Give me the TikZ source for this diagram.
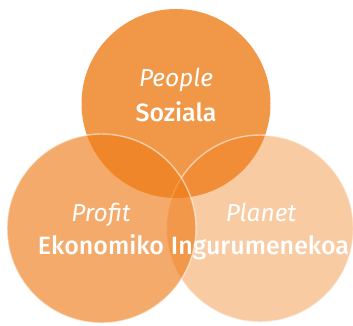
\documentclass[tikz,border=0pt]{standalone}
\usepackage{fontspec}
\IfFontExistsTF{FiraSans-Medium.otf}
  {\setmainfont{Fira Sans}[BoldFont=FiraSans-Medium.otf,BoldItalicFont=FiraSans-MediumItalic.otf]}
  {\IfFontExistsTF{Fira Sans Medium}
    {\setmainfont{Fira Sans}[BoldFont={Fira Sans Medium}]}
    {\setmainfont{Fira Sans}}}
\definecolor{basorange}{RGB}{238,125,26}
\begin{document}
\begin{tikzpicture}[x=1pt,y=-1pt,
  petal/.style={fill=basorange},
  ring/.style={draw=white,line width=1.4pt},
  ltxt/.style={text=white,font=\fontsize{24.5}{28}\selectfont\itshape,anchor=base,inner sep=0pt},
  btxt/.style={text=white,font=\fontsize{25}{29}\selectfont\bfseries,anchor=base,inner sep=0pt}]
\useasboundingbox (0,0) rectangle (353,325);
\clip (0,0) rectangle (353,325);
\coordinate (ct) at (176,103.5);
\coordinate (cl) at (101.5,228.5);
\coordinate (cr) at (260,228.5);
\fill[petal,fill opacity=0.80] (ct) circle[radius=94.5];
\path[petal,fill opacity=0.40] (cr) circle[radius=93.5];
\draw[ring,draw opacity=0.55] (cr) circle[radius=93.5];
\path[petal,fill opacity=0.65] (cl) circle[radius=94.5];
\draw[ring,draw opacity=0.55] (cl) circle[radius=94.5];
\node[ltxt] (people) at (176,86.7) {People};
\node[btxt] (soz) at (176,121) {Soziala};
\node[ltxt] (profit) at (101,221.7) {Profit};
\node[btxt] (eko) at (101,254) {Ekonomiko};
\node[ltxt] (planet) at (261,221.7) {Planet};
\node[btxt] (ing) at (260,254) {Ingurumenekoa};
\end{tikzpicture}
\end{document}
